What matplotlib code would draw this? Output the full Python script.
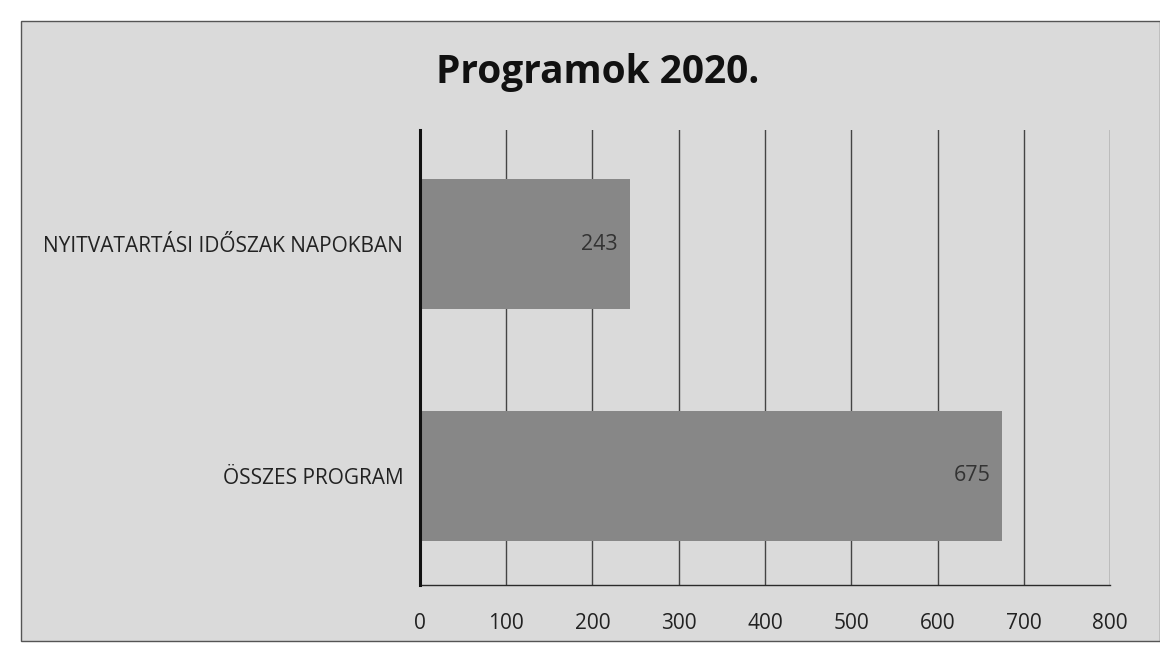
import matplotlib
matplotlib.use("Agg")
import matplotlib.pyplot as plt
from matplotlib.patches import Rectangle

categories = ["ÖSSZES PROGRAM", "NYITVATARTÁSI IDŐSZAK NAPOKBAN"]
values = [675, 243]
xticks = [0, 100, 200, 300, 400, 500, 600, 700, 800]
title = "Programok 2020."

plt.rcParams['font.family'] = ['Open Sans', 'DejaVu Sans']

fig = plt.figure(figsize=(11.6, 6.49), dpi=100, facecolor='white')
# scanned page area, kept behind the axes
fig.patches.append(Rectangle((0.018, 0.012), 0.982, 0.955, transform=fig.transFigure,
                             facecolor='#dadada', edgecolor='#555555', linewidth=1.0,
                             zorder=-5))

ax = fig.add_axes([0.362, 0.099, 0.595, 0.70])
ax.set_facecolor('none')

ypos = list(range(len(categories)))
bars = ax.barh(ypos, values, height=0.56, color='#878787', zorder=2)

for b, v in zip(bars, values):
    ax.text(b.get_width() - 14, b.get_y() + b.get_height() / 2, str(v),
            ha='right', va='center', fontsize=15.5, color='#333333', zorder=3)

ax.set_xlim(0, 800)
ax.set_ylim(-0.47, 1.49)
ax.set_xticks(xticks)
ax.set_xticklabels([str(t) for t in xticks], fontsize=15, color='#222222')
ax.set_yticks(ypos)
ax.set_yticklabels(categories, fontsize=15, color='#222222')
ax.tick_params(axis='x', length=0, pad=20)
ax.tick_params(axis='y', length=0, pad=12)

ax.grid(axis='x', color='#444444', linewidth=1.0, zorder=1)
ax.set_axisbelow(True)
for s in ['top', 'right']:
    ax.spines[s].set_visible(False)
ax.spines['left'].set_color('#111111')
ax.spines['left'].set_linewidth(2.2)
ax.spines['left'].set_zorder(4)
ax.spines['bottom'].set_color('#2a2a2a')
ax.spines['bottom'].set_linewidth(1.0)

fig.text(0.515, 0.888, title, ha='center', va='center', fontsize=28,
         fontweight='bold', color='#111111')

fig.savefig('out.png', dpi=100, facecolor=fig.get_facecolor())
